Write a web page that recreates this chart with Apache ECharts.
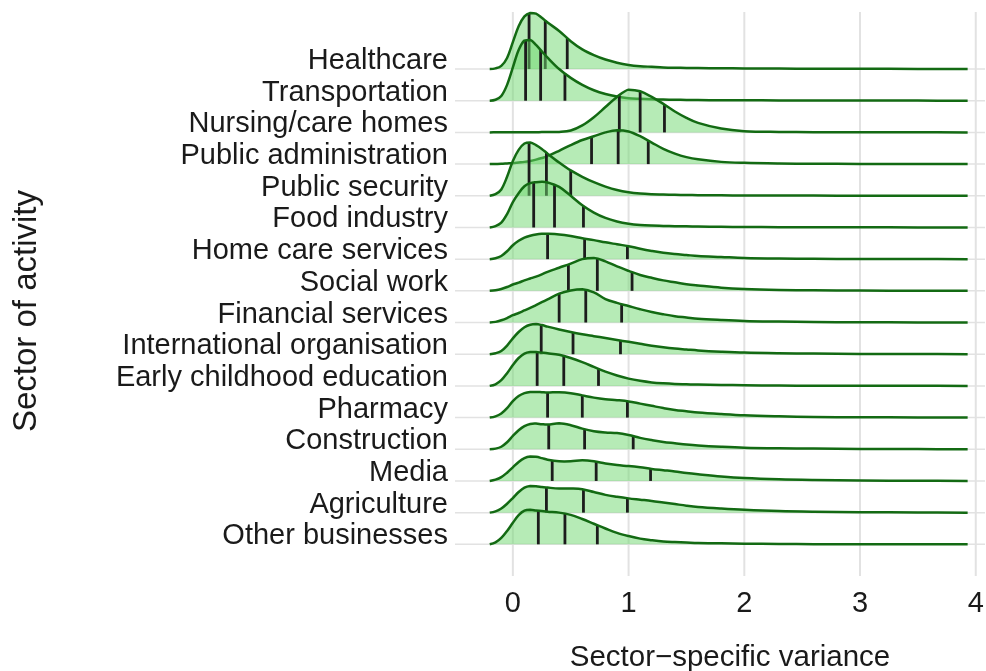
<!DOCTYPE html>
<html>
<head>
<meta charset="utf-8">
<title>Sector-specific variance</title>
<script src="https://cdn.jsdelivr.net/npm/echarts@6/dist/echarts.min.js"></script>
<style>
  html, body { margin: 0; padding: 0; background: #ffffff; }
  #chart { width: 986px; height: 671px; }
</style>
</head>
<body>
<div id="chart"></div>
<script>
// Sectors, listed from the top ridge to the bottom one
const sectors = [
  'Healthcare', 'Transportation', 'Nursing/care homes', 'Public administration',
  'Public security', 'Food industry', 'Home care services', 'Social work',
  'Financial services', 'International organisation', 'Early childhood education',
  'Pharmacy', 'Construction', 'Media', 'Agriculture', 'Other businesses'
];

// x ticks / vertical grid lines
const xTicks = [0, 1, 2, 3, 4];

// x positions where each density is sampled
const densityX = [-0.2, -0.15, -0.1, -0.05, 0, 0.05, 0.1, 0.15, 0.2, 0.25, 0.3,
  0.4, 0.5, 0.6, 0.7, 0.8, 0.9, 1.0, 1.1, 1.2, 1.3, 1.4, 1.5, 1.6, 1.8, 2.0,
  2.3, 2.6, 3.0, 3.5, 3.93];

// Ridge heights (in units of row spacing) at densityX
const healthcare     = [0, 0.02, 0.10, 0.35, 0.85, 1.35, 1.66, 1.77, 1.75, 1.62, 1.47, 1.20, 0.88, 0.62, 0.44, 0.30, 0.20, 0.13, 0.09, 0.07, 0.05, 0.04, 0.035, 0.03, 0.025, 0.02, 0.015, 0.01, 0.008, 0.005, 0];
const transportation = [0, 0.03, 0.15, 0.50, 1.05, 1.60, 1.90, 1.92, 1.76, 1.56, 1.36, 1.00, 0.72, 0.50, 0.33, 0.21, 0.13, 0.08, 0.06, 0.045, 0.035, 0.03, 0.025, 0.02, 0.015, 0.012, 0.01, 0.008, 0.005, 0.003, 0];
const nursingHomes   = [0, 0.002, 0.003, 0.004, 0.005, 0.005, 0.006, 0.007, 0.008, 0.009, 0.01, 0.015, 0.06, 0.22, 0.48, 0.80, 1.12, 1.35, 1.30, 1.12, 0.90, 0.66, 0.46, 0.30, 0.12, 0.04, 0.015, 0.008, 0.004, 0.002, 0];
const publicAdmin    = [0, 0.005, 0.01, 0.02, 0.03, 0.05, 0.07, 0.10, 0.14, 0.19, 0.25, 0.42, 0.60, 0.76, 0.88, 1.00, 1.07, 1.03, 0.88, 0.68, 0.48, 0.33, 0.22, 0.15, 0.07, 0.04, 0.02, 0.01, 0.005, 0.002, 0];
const publicSecurity = [0, 0.05, 0.20, 0.60, 1.10, 1.45, 1.65, 1.68, 1.60, 1.48, 1.33, 1.05, 0.80, 0.60, 0.43, 0.29, 0.18, 0.11, 0.07, 0.05, 0.04, 0.03, 0.025, 0.02, 0.015, 0.01, 0.008, 0.005, 0.003, 0.002, 0];
const foodIndustry   = [0, 0.04, 0.15, 0.42, 0.80, 1.08, 1.30, 1.40, 1.43, 1.44, 1.42, 1.28, 1.00, 0.70, 0.47, 0.30, 0.19, 0.12, 0.08, 0.06, 0.05, 0.04, 0.035, 0.03, 0.02, 0.015, 0.01, 0.007, 0.004, 0.002, 0];
const homeCare       = [0, 0.03, 0.10, 0.25, 0.44, 0.58, 0.68, 0.74, 0.78, 0.80, 0.80, 0.78, 0.73, 0.66, 0.60, 0.53, 0.47, 0.41, 0.33, 0.26, 0.20, 0.16, 0.13, 0.10, 0.07, 0.04, 0.02, 0.01, 0.005, 0.002, 0];
const socialWork     = [0, 0.02, 0.06, 0.12, 0.20, 0.26, 0.33, 0.39, 0.45, 0.52, 0.60, 0.73, 0.86, 1.00, 1.04, 0.93, 0.77, 0.63, 0.50, 0.41, 0.33, 0.27, 0.21, 0.17, 0.10, 0.06, 0.03, 0.015, 0.007, 0.003, 0];
const financial      = [0, 0.02, 0.07, 0.14, 0.23, 0.30, 0.38, 0.46, 0.55, 0.64, 0.73, 0.91, 1.01, 1.05, 0.95, 0.74, 0.62, 0.52, 0.42, 0.33, 0.26, 0.20, 0.16, 0.12, 0.08, 0.05, 0.03, 0.015, 0.007, 0.003, 0];
const international  = [0, 0.03, 0.10, 0.27, 0.50, 0.70, 0.85, 0.93, 0.95, 0.92, 0.87, 0.78, 0.70, 0.63, 0.57, 0.51, 0.45, 0.39, 0.33, 0.27, 0.22, 0.18, 0.15, 0.12, 0.08, 0.05, 0.03, 0.02, 0.01, 0.005, 0];
const earlyChildhood = [0, 0.05, 0.18, 0.40, 0.66, 0.88, 1.02, 1.07, 1.07, 1.05, 1.03, 0.98, 0.88, 0.75, 0.60, 0.45, 0.33, 0.23, 0.16, 0.11, 0.08, 0.06, 0.05, 0.04, 0.03, 0.02, 0.01, 0.007, 0.004, 0.002, 0];
const pharmacy       = [0, 0.04, 0.13, 0.30, 0.52, 0.68, 0.77, 0.81, 0.81, 0.80, 0.79, 0.80, 0.77, 0.70, 0.63, 0.58, 0.55, 0.51, 0.44, 0.37, 0.30, 0.24, 0.20, 0.16, 0.11, 0.07, 0.04, 0.02, 0.01, 0.005, 0];
const construction   = [0, 0.02, 0.08, 0.22, 0.42, 0.60, 0.73, 0.80, 0.81, 0.79, 0.78, 0.82, 0.76, 0.65, 0.57, 0.53, 0.51, 0.45, 0.36, 0.29, 0.23, 0.19, 0.15, 0.12, 0.08, 0.05, 0.03, 0.02, 0.01, 0.005, 0];
const media          = [0, 0.04, 0.12, 0.26, 0.43, 0.60, 0.72, 0.77, 0.76, 0.72, 0.67, 0.62, 0.62, 0.65, 0.62, 0.55, 0.50, 0.47, 0.43, 0.38, 0.34, 0.30, 0.25, 0.21, 0.14, 0.09, 0.05, 0.03, 0.015, 0.005, 0];
const agriculture    = [0, 0.04, 0.13, 0.28, 0.46, 0.65, 0.79, 0.84, 0.83, 0.81, 0.79, 0.76, 0.76, 0.74, 0.65, 0.56, 0.50, 0.45, 0.41, 0.37, 0.32, 0.27, 0.22, 0.18, 0.13, 0.09, 0.05, 0.03, 0.015, 0.005, 0];
const otherBusiness  = [0, 0.06, 0.20, 0.42, 0.68, 0.92, 1.06, 1.09, 1.07, 1.05, 1.03, 1.00, 0.93, 0.80, 0.65, 0.50, 0.36, 0.26, 0.18, 0.13, 0.09, 0.07, 0.055, 0.04, 0.03, 0.02, 0.01, 0.005, 0.003, 0.001, 0];

// Quartiles of each sector (same order as sectors)
const q25 = [0.14, 0.11, 0.92, 0.68, 0.14, 0.18, 0.30, 0.48, 0.40, 0.245, 0.21, 0.30, 0.31, 0.34, 0.29, 0.22];
const q50 = [0.28, 0.24, 1.10, 0.91, 0.29, 0.36, 0.62, 0.73, 0.63, 0.52, 0.44, 0.60, 0.62, 0.72, 0.61, 0.45];
const q75 = [0.47, 0.45, 1.31, 1.17, 0.50, 0.61, 0.99, 1.03, 0.94, 0.93, 0.74, 0.99, 1.04, 1.19, 0.99, 0.73];

const densities = [healthcare, transportation, nursingHomes, publicAdmin, publicSecurity,
  foodIndustry, homeCare, socialWork, financial, international, earlyChildhood,
  pharmacy, construction, media, agriculture, otherBusiness];

const n = sectors.length;
const rowPos = i => n - 1 - i;   // top sector gets the highest y value

// ridge height at an arbitrary x
function heightAt(d, x) {
  for (let k = 0; k < densityX.length - 1; k++) {
    const x0 = densityX[k], x1 = densityX[k + 1];
    if (x >= x0 && x <= x1) {
      const t = (x - x0) / (x1 - x0);
      return d[k] + t * (d[k + 1] - d[k]);
    }
  }
  return 0;
}

const FONT = '"Liberation Sans", Arial, Helvetica, sans-serif';
const TEXT = '#1a1a1a';
const GRID = '#e2e2e2';
const RIDGE_FILL = 'rgba(110, 215, 110, 0.5)';
const RIDGE_LINE = '#136a13';
const QUANT_LINE = '#1c1c1c';
const SMOOTH = 0.35;
// keep bezier control points inside the bounding box of each curve
const BOX_ONLY = [[Infinity, Infinity], [-Infinity, -Infinity]];

const chart = echarts.init(document.getElementById('chart'), null, { renderer: 'canvas' });

const option = {
  animation: false,
  backgroundColor: '#ffffff',
  grid: { left: 455, right: 1, top: 12, bottom: 95, containLabel: false, outerBoundsMode: 'none' },
  xAxis: {
    type: 'value', min: -0.5, max: 4.08, interval: 0.5,
    axisLine: { show: false }, axisTick: { show: false }, splitLine: { show: false },
    axisLabel: {
      margin: 13, fontSize: 29, color: TEXT, fontFamily: FONT,
      formatter: v => {
        const r = Math.round(v);
        return (Math.abs(v - r) < 1e-6 && xTicks.indexOf(r) >= 0) ? String(r) : '';
      }
    }
  },
  yAxis: {
    type: 'value', min: -1, max: 16.8, interval: 1,
    axisLine: { show: false }, axisTick: { show: false }, splitLine: { show: false },
    axisLabel: {
      margin: 7, fontSize: 29, color: TEXT, fontFamily: FONT,
      verticalAlign: 'bottom', lineHeight: 16,
      formatter: v => {
        const i = n - 1 - Math.round(v);
        return sectors[i] || '';
      }
    }
  },
  graphic: [
    {
      type: 'text', x: 730, y: 658,
      style: { text: 'Sector\u2212specific variance', fontSize: 29.5, fontFamily: FONT, fill: TEXT, align: 'center', verticalAlign: 'middle' }
    },
    {
      type: 'text', x: 27, y: 311, rotation: Math.PI / 2,
      style: { text: 'Sector of activity', fontSize: 33, fontFamily: FONT, fill: TEXT, align: 'center', verticalAlign: 'middle' }
    }
  ],
  series: [
    {
      // background grid: vertical lines at the x ticks, horizontal lines at each row
      type: 'custom', z: 1, silent: true,
      data: [[0]],
      renderItem: (params, api) => {
        const cs = params.coordSys;
        const children = [];
        xTicks.forEach(v => {
          const px = api.coord([v, 0])[0];
          children.push({ type: 'line', shape: { x1: px, y1: cs.y, x2: px, y2: cs.y + cs.height },
            style: { stroke: GRID, lineWidth: 2 } });
        });
        sectors.forEach((s, i) => {
          const py = api.coord([0, rowPos(i)])[1];
          children.push({ type: 'line', shape: { x1: cs.x, y1: py, x2: cs.x + cs.width, y2: py },
            style: { stroke: GRID, lineWidth: 1.5 } });
        });
        return { type: 'group', children };
      }
    },
    {
      // density ridges, drawn top to bottom so lower ridges overlap upper ones
      type: 'custom', z: 2, silent: true,
      data: sectors.map((s, i) => [i]),
      renderItem: (params, api) => {
        const i = params.dataIndex;
        const d = densities[i];
        const base = rowPos(i);
        const pts = densityX.map((x, k) => api.coord([x, base + d[k]]));
        const children = [
          { type: 'polygon', shape: { points: pts, smooth: SMOOTH, smoothConstraint: BOX_ONLY },
            style: { fill: RIDGE_FILL, stroke: null } }
        ];
        [q25[i], q50[i], q75[i]].forEach(q => {
          const p0 = api.coord([q, base]);
          const p1 = api.coord([q, base + heightAt(d, q)]);
          children.push({ type: 'line', shape: { x1: p0[0], y1: p0[1], x2: p1[0], y2: p1[1] },
            style: { stroke: QUANT_LINE, lineWidth: 2.8 } });
        });
        children.push({ type: 'polyline', shape: { points: pts, smooth: SMOOTH, smoothConstraint: BOX_ONLY },
          style: { stroke: RIDGE_LINE, lineWidth: 2.5, fill: null, lineJoin: 'round' } });
        return { type: 'group', children };
      }
    }
  ]
};

chart.setOption(option);
</script>
</body>
</html>
